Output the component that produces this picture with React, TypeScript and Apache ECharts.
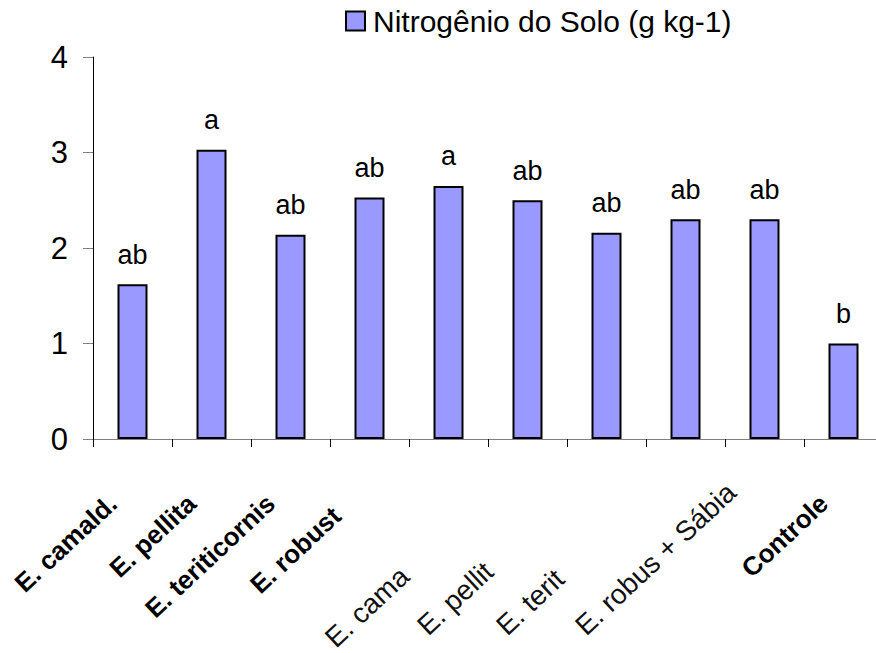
import React, { useEffect, useRef } from 'react';
import * as echarts from 'echarts';

// ---- data ----
const categoryLabels = [
  'E. camald.',
  'E. pellita',
  'E. teriticornis',
  'E. robust',
  'E. cama',
  'E. pellit',
  'E. terit',
  'E. robus + Sábia',
  '',
  'Controle',
];
const nitrogenValues = [1.62, 3.03, 2.14, 2.53, 2.65, 2.5, 2.16, 2.3, 2.3, 1.0];
const significanceLetters = ['ab', 'a', 'ab', 'ab', 'a', 'ab', 'ab', 'ab', 'ab', 'b'];
const seriesName = 'Nitrogênio do Solo (g kg-1)';
const yMin = 0;
const yMax = 4;
const yInterval = 1;
const upperRowIdx = [0, 1, 2, 3, 9];
const lowerRowIdx = [4, 5, 6, 7];

const FONT = "'Liberation Sans', Arial, Helvetica, sans-serif";

export default function App() {
  const ref = useRef<HTMLDivElement>(null);

  useEffect(() => {
    document.body.style.margin = '0';
    const chart = echarts.init(ref.current as HTMLDivElement, null, { renderer: 'svg' });
    const boldTok = { fontSize: 26, fontWeight: 'bold', color: '#000', fontFamily: FONT };
    const regTok = { fontSize: 28, color: '#111', fontFamily: FONT };
    chart.setOption({
      animation: false,
      backgroundColor: '#ffffff',
      textStyle: { fontFamily: FONT },
      legend: {
        left: 345,
        top: 6,
        padding: 0,
        icon: 'rect',
        itemWidth: 19,
        itemHeight: 19,
        textStyle: { fontSize: 30, color: '#000', fontFamily: FONT, padding: [0, 0, 0, 3] },
        data: [seriesName],
      },
      grid: [
        { left: 93, top: 57, width: 790, height: 382, containLabel: false, outerBoundsMode: 'none' },
        { left: -26, top: 57, width: 790, height: 382, containLabel: false, outerBoundsMode: 'none' },
      ],
      xAxis: [
        {
          type: 'category',
          gridIndex: 0,
          data: categoryLabels,
          boundaryGap: true,
          axisLine: { show: true, lineStyle: { color: '#808080', width: 1 } },
          axisTick: { show: true, length: 8, interval: 0, lineStyle: { color: '#000', width: 1 } },
          axisLabel: {
            interval: 0,
            rotate: 43,
            margin: 42,
            fontSize: 26,
            fontWeight: 'bold',
            color: '#000',
            fontFamily: FONT,
            formatter: (v: string, i: number) =>
              upperRowIdx.includes(i) ? (i === 3 ? `{w|${v}}` : `{u|${v}}`) : '',
            rich: {
              u: { ...boldTok, padding: [0, 27, 0, 0] },
              w: { ...boldTok, padding: [0, 45, 0, 0] },
            },
          },
        },
        {
          type: 'category',
          gridIndex: 1,
          data: categoryLabels,
          boundaryGap: true,
          axisLine: { show: false },
          axisTick: { show: false },
          axisLabel: {
            interval: 0,
            rotate: 43,
            align: 'left',
            margin: 203,
            fontSize: 28,
            color: '#111',
            fontFamily: FONT,
            formatter: (v: string, i: number) =>
              lowerRowIdx.includes(i) ? (i === lowerRowIdx[0] ? `{f|${v}}` : `{g|${v}}`) : '',
            rich: {
              f: { ...regTok },
              g: { ...regTok, padding: [0, 0, 0, 18] },
            },
          },
        },
      ],
      yAxis: [
        {
          type: 'value',
          gridIndex: 0,
          min: yMin,
          max: yMax,
          interval: yInterval,
          axisLine: { show: true, lineStyle: { color: '#000', width: 1 } },
          axisTick: { show: true, length: 10, lineStyle: { color: '#808080', width: 1 } },
          splitLine: { show: false },
          axisLabel: { fontSize: 31, color: '#000', margin: 25, fontFamily: FONT },
        },
        { type: 'value', gridIndex: 1, min: yMin, max: yMax, show: false },
      ],
      series: [
        {
          type: 'bar',
          name: seriesName,
          xAxisIndex: 0,
          yAxisIndex: 0,
          data: nitrogenValues,
          barWidth: 30,
          itemStyle: { color: '#9999ff', borderColor: '#000', borderWidth: 2 },
          label: {
            show: true,
            position: 'top',
            distance: 16,
            fontSize: 27,
            color: '#000',
            fontFamily: FONT,
            formatter: (p: any) => significanceLetters[p.dataIndex],
          },
        },
      ],
    });
    return () => chart.dispose();
  }, []);

  return (
    <div
      ref={ref}
      style={{ position: 'fixed', left: 0, top: 0, width: 876, height: 653, background: '#fff' }}
    />
  );
}
